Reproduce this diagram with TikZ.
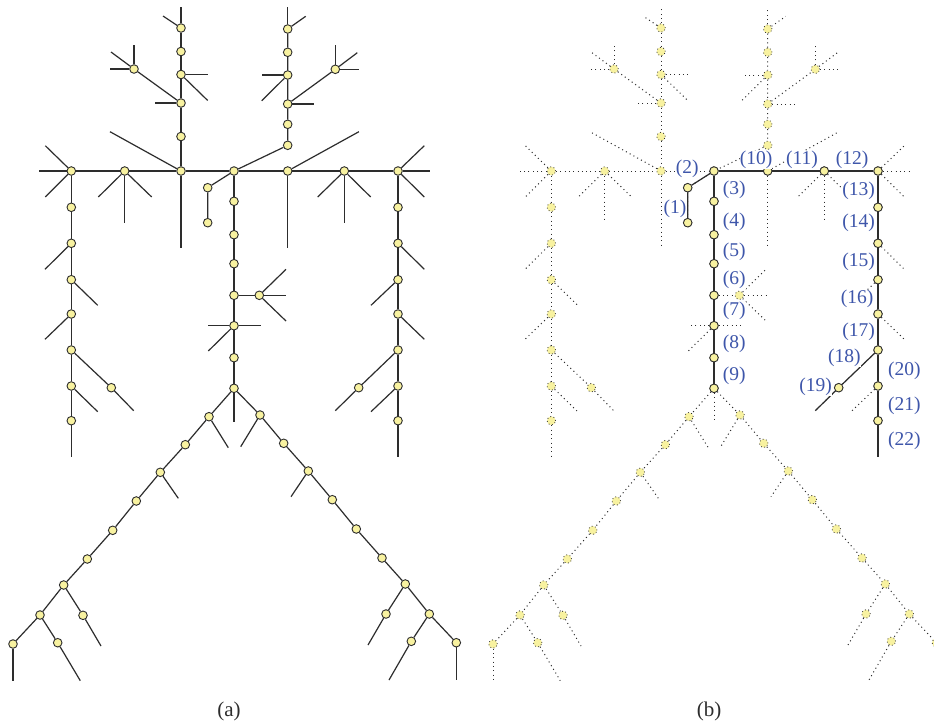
\documentclass[tikz,border=0pt]{standalone}
\usepackage{fontspec}
\setmainfont{Liberation Serif}
\definecolor{nodefill}{RGB}{248,242,160}
\definecolor{ink}{RGB}{45,45,45}
\definecolor{numblue}{RGB}{62,86,170}

\tikzset{
  solidline/.style={draw=ink, line width=1.2pt},
  dotline/.style={draw=ink, line width=1pt, dash pattern=on 1pt off 3.3pt},
  joint/.style={circle, minimum size=8.6pt, inner sep=0pt, fill=nodefill, draw=ink, line width=0.9pt},
  faintjoint/.style={circle, minimum size=8.6pt, inner sep=0pt, fill=nodefill, draw=ink, line width=0.8pt, dash pattern=on 0.8pt off 2.6pt},
  numlabel/.style={text=numblue, fill=white, inner sep=0pt, font=\fontsize{19.5}{21}\selectfont},
  panellabel/.style={text=ink, inner sep=0pt, font=\fontsize{21}{24}\selectfont}
}

% #1 name prefix, #2 horizontal offset, #3 line style, #4 joint style
\newcommand\skeleton[4]{%
\begin{scope}[xshift=#2]
  \foreach \n/\x/\y in {
    t1/181/28, t2/181/51.5, t3/181/74.5, t4/181/103, t5/181/136.5, tb/134/69,
    r1/287.7/29, r2/287.7/52.3, r3/287.7/75, r4/287.7/104, r5/287.7/124.3, r6/287.7/145.3, rb/335.3/69.3,
    h1/71.3/171, h2/124.7/171, h3/181/171, h4/234/171, h5/287.7/171, h6/344.3/171, h7/398/171,
    s1/207.7/187.7, s2/207.7/222.7,
    c1/234/201.3, c2/234/234.7, c3/234/263.7, c4/234/295.3, c5/234/325.7, c6/234/357.7, c7/234/388.3, cb/259.3/295.3,
    ua1/71.3/207.3, ua2/71.3/243.3, ua3/71.3/279.7, ua4/71.3/314, ua5/71.3/350, ua6/71.3/386, ua7/71.3/420.7, ub/111.3/387.7,
    va1/398/207.3, va2/398/243.3, va3/398/279.7, va4/398/314, va5/398/350, va6/398/386, va7/398/420.7, vb/358.7/387.7,
    la1/209/416.7, la2/185.3/444.7, la3/160.3/472.3, la4/136.3/501, la5/112.7/530.3, la6/87.3/559, la7/63.7/585,
    la8/83/615.3, la9/40/615, la10/13/644, la11/57.7/642.7,
    ra1/260/415, ra2/283.7/443.3, ra3/308.3/471, ra4/332.3/499.7, ra5/356.3/529, ra6/382/558, ra7/405.3/584,
    ra8/386/614, ra9/429.3/614, ra10/411.3/641.3, ra11/456.3/642.7}
    \node[#4] (#1\n) at (\x,\y) {};
  \begin{scope}[every path/.style={#3}]
    % upper left branch
    \draw (#1t1) -- ++(0,-21);
    \draw (#1t1) -- ++(-18,-12);
    \draw (#1t1) -- (#1t2) -- (#1t3) -- (#1t4) -- (#1t5) -- (#1h3);
    \draw (#1tb) -- ++(0,-24);
    \draw (#1tb) -- ++(-24,0);
    \draw (#1tb) -- ++(-23,-17);
    \draw (#1tb) -- (#1t4);
    \draw (#1t3) -- ++(26.7,0);
    \draw (#1t3) -- ++(26.7,26);
    \draw (#1t4) -- ++(-26,0);
    \draw (#1h3) -- ++(-71,-39.3);
    \draw (#1h3) -- ++(0,77);
    % shoulder line
    \draw (#1h1) -- ++(-32,0);
    \draw (#1h1) -- (#1h2) -- (#1h3) -- (#1h4) -- (#1h5) -- (#1h6) -- (#1h7);
    \draw (#1h7) -- ++(32,0);
    \draw (#1h1) -- ++(-26,-25.3);
    \draw (#1h1) -- ++(-26,26);
    \draw (#1h2) -- ++(-26.4,26);
    \draw (#1h2) -- ++(27,26);
    \draw (#1h2) -- ++(0,51.7);
    \draw (#1h5) -- ++(71.2,-39.3);
    \draw (#1h5) -- ++(0,77);
    \draw (#1h6) -- ++(-26.6,26);
    \draw (#1h6) -- ++(26.4,26);
    \draw (#1h6) -- ++(0,51.7);
    \draw (#1h7) -- ++(26.3,-25.3);
    \draw (#1h7) -- ++(26.3,26);
    % upper right branch
    \draw (#1r1) -- ++(0,-21.7);
    \draw (#1r1) -- ++(18,-12.7);
    \draw (#1r1) -- (#1r2) -- (#1r3) -- (#1r4) -- (#1r5) -- (#1r6) -- (#1h4);
    \draw (#1r3) -- ++(-26,0);
    \draw (#1r3) -- ++(-26,25.7);
    \draw (#1r4) -- ++(26.6,0);
    \draw (#1r4) -- (#1rb);
    \draw (#1rb) -- ++(0,-24.3);
    \draw (#1rb) -- ++(23.7,0);
    \draw (#1rb) -- ++(22,-16.6);
    % short hook and central trunk
    \draw (#1h4) -- (#1s1) -- (#1s2);
    \draw (#1h4) -- (#1c1) -- (#1c2) -- (#1c3) -- (#1c4) -- (#1c5) -- (#1c6) -- (#1c7);
    \draw (#1c4) -- (#1cb);
    \draw (#1cb) -- ++(26.7,-26);
    \draw (#1cb) -- ++(26.7,0);
    \draw (#1cb) -- ++(26.7,25.7);
    \draw (#1c5) -- ++(-25.7,0);
    \draw (#1c5) -- ++(27,0);
    \draw (#1c5) -- ++(-25.7,25.3);
    \draw (#1c7) -- ++(0,33.4);
    % left leg
    \draw (#1c7) -- (#1la1) -- (#1la2) -- (#1la3) -- (#1la4) -- (#1la5) -- (#1la6) -- (#1la7) -- (#1la9) -- (#1la10);
    \draw (#1la10) -- ++(0,36.7);
    \draw (#1la1) -- ++(19.3,31);
    \draw (#1la3) -- ++(18,26);
    \draw (#1la7) -- (#1la8);
    \draw (#1la8) -- ++(18,30.7);
    \draw (#1la9) -- (#1la11);
    \draw (#1la11) -- ++(22.6,38);
    % right leg
    \draw (#1c7) -- (#1ra1) -- (#1ra2) -- (#1ra3) -- (#1ra4) -- (#1ra5) -- (#1ra6) -- (#1ra7) -- (#1ra9) -- (#1ra11);
    \draw (#1ra11) -- ++(0,37.3);
    \draw (#1ra1) -- ++(-19.3,31.7);
    \draw (#1ra3) -- ++(-17.3,25.7);
    \draw (#1ra7) -- (#1ra8);
    \draw (#1ra8) -- ++(-18,31);
    \draw (#1ra9) -- (#1ra10);
    \draw (#1ra10) -- ++(-22.3,38.7);
    % left arm
    \draw (#1h1) -- (#1ua1) -- (#1ua2) -- (#1ua3) -- (#1ua4) -- (#1ua5) -- (#1ua6) -- (#1ua7);
    \draw (#1ua7) -- ++(0,36);
    \draw (#1ua2) -- ++(-26.3,26);
    \draw (#1ua3) -- ++(26.4,25.6);
    \draw (#1ua4) -- ++(-26.3,25.3);
    \draw (#1ua5) -- (#1ub);
    \draw (#1ub) -- ++(22.4,23);
    \draw (#1ua6) -- ++(26.4,25.7);
    % right arm
    \draw (#1h7) -- (#1va1) -- (#1va2) -- (#1va3) -- (#1va4) -- (#1va5) -- (#1va6) -- (#1va7);
    \draw (#1va7) -- ++(0,36);
    \draw (#1va2) -- ++(26.3,26);
    \draw (#1va3) -- ++(-27,25.6);
    \draw (#1va4) -- ++(26.3,25.3);
    \draw (#1va5) -- (#1vb);
    \draw (#1vb) -- ++(-23.4,23);
    \draw (#1va6) -- ++(-27,25.7);
  \end{scope}
\end{scope}}

\begin{document}
\begin{tikzpicture}[x=1pt, y=-1pt]
  \useasboundingbox (0,0) rectangle (934,724);
  \fill[white] (0,0) rectangle (934,724);

  % panel (a): full skeleton
  \skeleton{A}{0pt}{solidline}{joint}
  \node[panellabel] (capa) at (229,711.5) {(a)};

  % panel (b): faint skeleton with one traced path
  \skeleton{B}{480pt}{dotline}{faintjoint}
  \foreach \n in {s2,s1,h4,c1,c2,c3,c4,c5,c6,c7,h5,h6,h7,va1,va2,va3,va4,va5,va6,va7,vb}
    \node[joint] (p\n) at (B\n) {};
  \begin{scope}[every path/.style={solidline}]
    \draw (ps2) -- (ps1) -- (ph4);
    \draw (ph4) -- (pc1) -- (pc2) -- (pc3) -- (pc4) -- (pc5) -- (pc6) -- (pc7);
    \draw (ph4) -- (ph5) -- (ph6) -- (ph7);
    \draw (ph7) -- (pva1) -- (pva2) -- (pva3) -- (pva4) -- (pva5) -- (pva6) -- (pva7);
    \draw (pva7) -- ++(0,36);
    \draw (pva5) -- (pvb);
    \draw (pvb) -- ++(-23.4,23);
  \end{scope}

  \node[numlabel] (n1)  at (675,209.3) {(1)};
  \node[numlabel] (n2)  at (687.3,169.3) {(2)};
  \node[numlabel] (n3)  at (734.3,189.7) {(3)};
  \node[numlabel] (n4)  at (734.3,221.7) {(4)};
  \node[numlabel] (n5)  at (734.3,252.3) {(5)};
  \node[numlabel] (n6)  at (734.3,280) {(6)};
  \node[numlabel] (n7)  at (734.3,311) {(7)};
  \node[numlabel] (n8)  at (734.3,344.3) {(8)};
  \node[numlabel] (n9)  at (734.3,375.7) {(9)};
  \node[numlabel] (n10) at (756,160.3) {(10)};
  \node[numlabel] (n11) at (802,160.3) {(11)};
  \node[numlabel] (n12) at (852,160.3) {(12)};
  \node[numlabel] (n13) at (858.7,190.7) {(13)};
  \node[numlabel] (n14) at (858.7,222.7) {(14)};
  \node[numlabel] (n15) at (858.7,262.3) {(15)};
  \node[numlabel] (n16) at (857,299) {(16)};
  \node[numlabel] (n17) at (858.7,331.7) {(17)};
  \node[numlabel] (n18) at (844.3,357.7) {(18)};
  \node[numlabel] (n19) at (815.7,386.7) {(19)};
  \node[numlabel] (n20) at (904.3,370.7) {(20)};
  \node[numlabel] (n21) at (904.3,405.7) {(21)};
  \node[numlabel] (n22) at (904.3,440.7) {(22)};

  \node[panellabel] (capb) at (709,711.5) {(b)};
\end{tikzpicture}
\end{document}
